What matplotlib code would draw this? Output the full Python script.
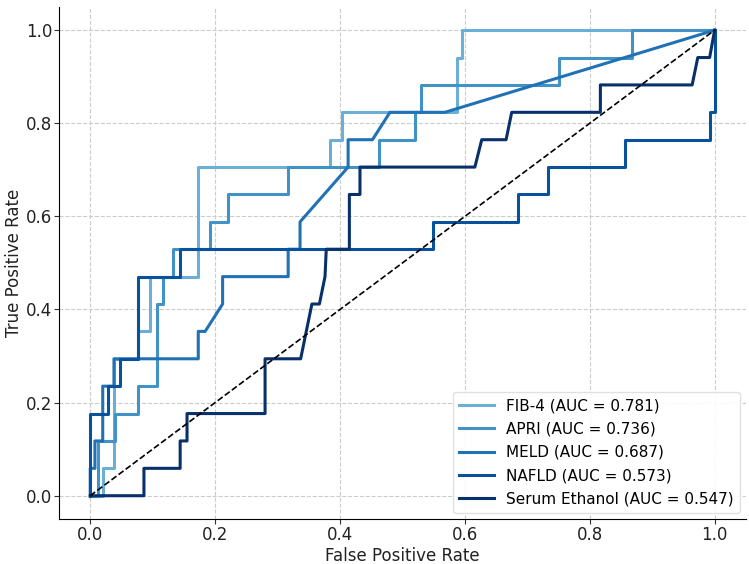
import matplotlib
matplotlib.use("Agg")
import matplotlib.pyplot as plt

labels = ["FIB-4 (AUC = 0.781)", "APRI (AUC = 0.736)", "MELD (AUC = 0.687)",
          "NAFLD (AUC = 0.573)", "Serum Ethanol (AUC = 0.547)"]
colors = ["#6baed6", "#4292c6", "#2171b5", "#08519c", "#08306b"]

n = 17.0
fib4_fpr = [0, 0.02, 0.02, 0.038, 0.038, 0.077, 0.077, 0.096, 0.096, 0.172, 0.172, 0.384, 0.384, 0.404, 0.404,
            0.587, 0.587, 0.596, 0.596, 1.0]
fib4_tpr = [0, 0, 1, 1, 5, 5, 6, 6, 8, 8, 12, 12, 13, 13, 14,
            14, 16, 16, 17, 17]

apri_fpr = [0, 0.0125, 0.0125, 0.04, 0.04, 0.077, 0.077, 0.107, 0.107, 0.116, 0.116, 0.133, 0.133, 0.192, 0.192,
            0.221, 0.221, 0.317, 0.317, 0.463, 0.463, 0.52, 0.52, 0.53, 0.53, 0.75, 0.75, 0.868, 0.868, 1.0]
apri_tpr = [0, 0, 2, 2, 3, 3, 4, 4, 7, 7, 8, 8, 9, 9, 10,
            10, 11, 11, 12, 12, 13, 13, 14, 14, 15, 15, 16, 16, 17, 17]

meld_fpr = [0, 0, 0.0075, 0.0075, 0.02, 0.02, 0.038, 0.038, 0.173, 0.173, 0.184, 0.212, 0.212, 0.317, 0.317,
            0.336, 0.336, 0.413, 0.413, 0.452, 0.48, 0.568, 1.0]
meld_tpr = [0, 1, 1, 2, 2, 4, 4, 5, 5, 6, 6, 7, 8, 8, 9,
            9, 10, 12, 13, 13, 14, 14, 17]

nafld_fpr = [0, 0, 0.029, 0.029, 0.048, 0.048, 0.077, 0.077, 0.144, 0.144, 0.549, 0.549, 0.685, 0.685, 0.733,
             0.733, 0.856, 0.856, 0.992, 0.992, 1.0, 1.0]
nafld_tpr = [0, 3, 3, 4, 4, 5, 5, 8, 8, 9, 9, 10, 10, 11, 11,
             12, 12, 13, 13, 14, 14, 17]

eth_fpr = [0, 0.086, 0.086, 0.144, 0.144, 0.155, 0.155, 0.28, 0.28, 0.337, 0.355, 0.367, 0.376, 0.378, 0.415,
           0.415, 0.432, 0.432, 0.616, 0.627, 0.666, 0.675, 0.817, 0.817, 0.964, 0.973, 0.992, 1.0]
eth_tpr = [0, 0, 1, 1, 2, 2, 3, 3, 5, 5, 7, 7, 8, 9, 9,
           11, 11, 12, 12, 13, 13, 14, 14, 15, 15, 16, 16, 17]

series = [(fib4_fpr, fib4_tpr), (apri_fpr, apri_tpr), (meld_fpr, meld_tpr),
          (nafld_fpr, nafld_tpr), (eth_fpr, eth_tpr)]

fig = plt.figure(figsize=(7.49, 5.64), dpi=100)
ax = fig.add_axes([0.0788, 0.0798, 0.917, 0.908])
for (fx, ty), lab, c in zip(series, labels, colors):
    ax.plot(fx, [t / n for t in ty], color=c, lw=2.2, label=lab)
ax.plot([0, 1], [0, 1], color="black", lw=1.2, ls="--")
ax.set_xlim(-0.05, 1.05)
ax.set_ylim(-0.05, 1.05)
ax.set_xticks([0, 0.2, 0.4, 0.6, 0.8, 1.0])
ax.set_yticks([0, 0.2, 0.4, 0.6, 0.8, 1.0])
ax.tick_params(labelsize=12, colors="#333333", labelcolor="#222222", length=3.5, pad=1.5)
ax.set_xlabel("False Positive Rate", fontsize=12, color="#222222", labelpad=2)
ax.set_ylabel("True Positive Rate", fontsize=12, color="#222222", labelpad=2)
ax.grid(True, ls="--", color="#cccccc", lw=0.8)
ax.spines["top"].set_visible(False)
ax.spines["right"].set_visible(False)
ax.legend(loc="lower right", fontsize=11, framealpha=0.9, edgecolor="#dddddd",
          handlelength=2.3, labelspacing=0.55, borderaxespad=0.4)
fig.savefig("out.png", dpi=100)
